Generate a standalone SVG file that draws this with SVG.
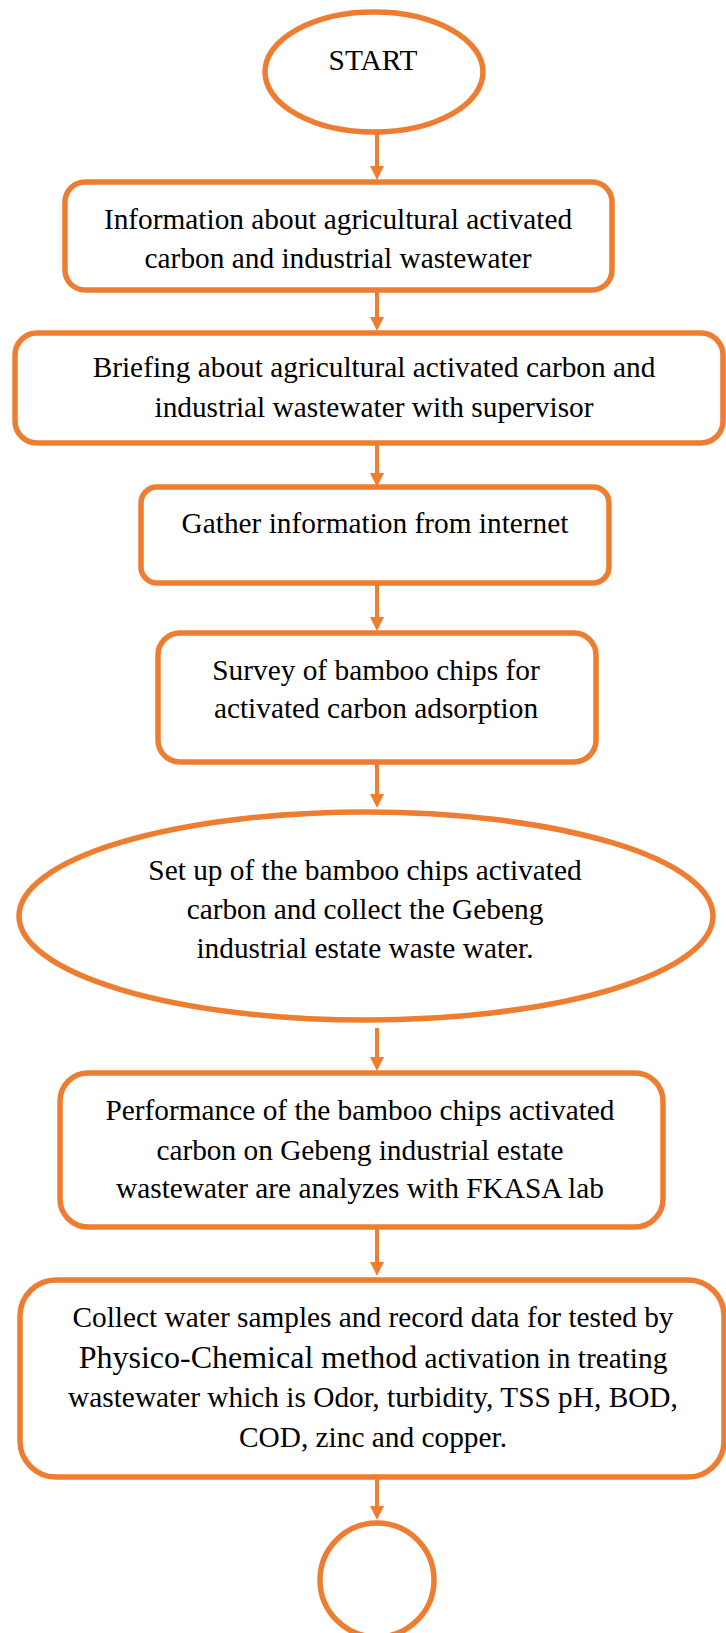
<svg xmlns="http://www.w3.org/2000/svg" width="726" height="1633" viewBox="0 0 726 1633">
<style>
.n{fill:#fff;stroke:#ED7D31;stroke-width:5.5}
.t{font-family:"Liberation Serif","Times New Roman",serif;font-size:29.33px;fill:#000;text-anchor:middle}
.big{font-size:32px}
.c{stroke:#ED7D31;stroke-width:4;fill:none}
.h{fill:#ED7D31}
</style>
<rect width="726" height="1633" fill="#fff"/>
<g id="connectors">
<line class="c" x1="377" y1="133" x2="377" y2="168"/><path class="h" d="M370,166 L384,166 L377,180 Z"/>
<line class="c" x1="377" y1="290" x2="377" y2="320"/><path class="h" d="M370,317 L384,317 L377,331 Z"/>
<line class="c" x1="377" y1="443" x2="377" y2="475"/><path class="h" d="M370,473 L384,473 L377,487 Z"/>
<line class="c" x1="377" y1="583" x2="377" y2="619"/><path class="h" d="M370,617 L384,617 L377,631 Z"/>
<line class="c" x1="377" y1="762" x2="377" y2="796"/><path class="h" d="M370,794 L384,794 L377,808 Z"/>
<line class="c" x1="377" y1="1028" x2="377" y2="1059"/><path class="h" d="M370,1057 L384,1057 L377,1071 Z"/>
<line class="c" x1="377" y1="1227" x2="377" y2="1264"/><path class="h" d="M370,1262 L384,1262 L377,1276 Z"/>
<line class="c" x1="377" y1="1477" x2="377" y2="1508"/><path class="h" d="M370,1506 L384,1506 L377,1520 Z"/>
</g>
<g id="start">
<ellipse class="n" cx="374" cy="72" rx="109" ry="60"/>
<text class="t" x="373" y="70">START</text>
</g>
<g id="info">
<rect class="n" x="65" y="182" width="547" height="108" rx="20"/>
<text class="t" x="338" y="229">Information about agricultural activated</text>
<text class="t" x="338" y="268">carbon and industrial wastewater</text>
</g>
<g id="briefing">
<rect class="n" x="15" y="333" width="708" height="110" rx="22"/>
<text class="t" x="374" y="377">Briefing about agricultural activated carbon and</text>
<text class="t" x="374" y="417">industrial wastewater with supervisor</text>
</g>
<g id="gather">
<rect class="n" x="141" y="487" width="468" height="96" rx="16"/>
<text class="t" x="375" y="533">Gather information from internet</text>
</g>
<g id="survey">
<rect class="n" x="158" y="633" width="438" height="129" rx="22"/>
<text class="t" x="376" y="680">Survey of bamboo chips for</text>
<text class="t" x="376" y="718">activated carbon adsorption</text>
</g>
<g id="setup">
<ellipse class="n" cx="366" cy="916" rx="347" ry="104"/>
<text class="t" x="365" y="880">Set up of the bamboo chips activated</text>
<text class="t" x="365" y="919">carbon and collect the Gebeng</text>
<text class="t" x="365" y="958">industrial estate waste water.</text>
</g>
<g id="performance">
<rect class="n" x="60" y="1073" width="603" height="154" rx="28"/>
<text class="t" x="360" y="1120">Performance of the bamboo chips activated</text>
<text class="t" x="360" y="1160">carbon on Gebeng industrial estate</text>
<text class="t" x="360" y="1198">wastewater are analyzes with FKASA lab</text>
</g>
<g id="collect">
<rect class="n" x="20" y="1280" width="704" height="197" rx="36"/>
<text class="t" x="373" y="1327">Collect water samples and record data for tested by</text>
<text class="t" x="373" y="1368"><tspan class="big">Physico-Chemical method</tspan> activation in treating</text>
<text class="t" x="373" y="1407">wastewater which is Odor, turbidity, TSS pH, BOD,</text>
<text class="t" x="373" y="1447">COD, zinc and copper.</text>
</g>
<g id="end">
<circle class="n" cx="377" cy="1580" r="57"/>
</g>
</svg>
